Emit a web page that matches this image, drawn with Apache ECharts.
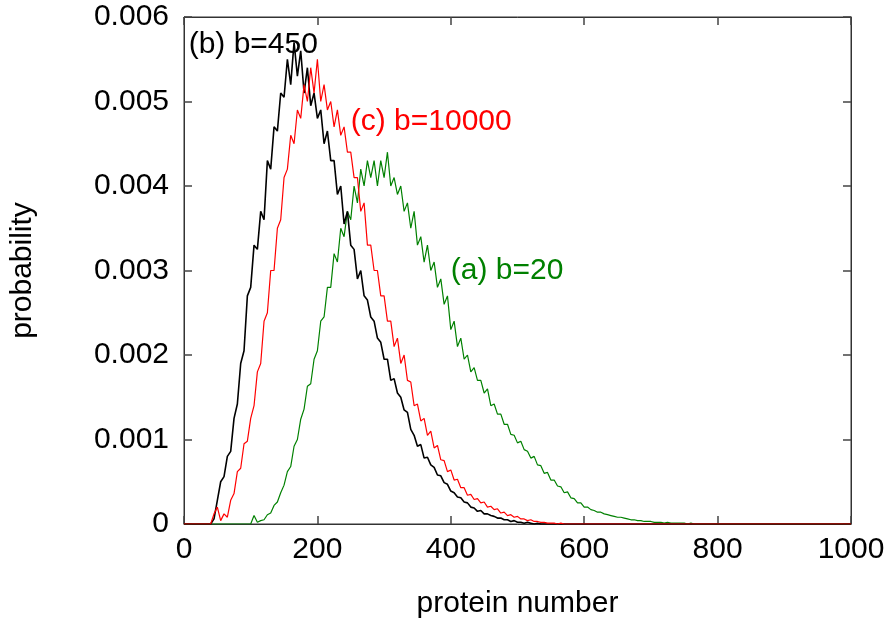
<!DOCTYPE html>
<html>
<head>
<meta charset="utf-8">
<script src="https://cdn.jsdelivr.net/npm/echarts@6/dist/echarts.min.js"></script>
<style>html,body{margin:0;padding:0;background:#fff}#c{width:890px;height:624px}</style>
</head>
<body>
<div id="c"></div>
<script>
// x step between samples (protein number)
var step = 5;
var xTicks = [0, 200, 400, 600, 800, 1000];
var yTicks = [0, 0.001, 0.002, 0.003, 0.004, 0.005, 0.006];

// (b) b=450, samples from protein number 40
var startB = 40;
var probB = [0, 0.00006, 0.00028, 0.0005, 0.00056, 0.0008, 0.00086, 0.00125, 0.00142, 0.0019,
  0.00205, 0.0027, 0.0028, 0.0033, 0.00325, 0.0037, 0.0036, 0.0043, 0.0042, 0.0047,
  0.00465, 0.0051, 0.00505, 0.0055, 0.0052, 0.0057, 0.0053, 0.0056, 0.0051, 0.0054,
  0.00495, 0.0051, 0.0048, 0.0049, 0.0045, 0.00465, 0.0043, 0.0043, 0.0039, 0.0040,
  0.00355, 0.0037, 0.0033, 0.00325, 0.0029, 0.003, 0.0027, 0.00265, 0.00245, 0.0024,
  0.0022, 0.00215, 0.00195, 0.00195, 0.0017, 0.00172, 0.00155, 0.0015, 0.00135, 0.00132,
  0.00112, 0.00105, 0.00092, 0.00094, 0.00078, 0.00079, 0.0007, 0.00067, 0.00058, 0.00057,
  0.00049, 0.00047, 0.00039, 0.00037, 0.00032, 0.00031, 0.00026, 0.00025, 0.0002, 0.00019,
  0.00015, 0.00016, 0.00012, 0.00012, 0.0001, 0.00009, 0.00007, 0.00007, 0.00005, 0.00005,
  0.00003, 0.00004, 0.00002, 0.00002, 0.00001, 0.00002, 0.00001, 0, 0.00001, 0, 0, 0];

// (c) b=10000, samples from protein number 40
var startC = 40;
var probC = [0, 0.00012, 0.0002, 0.00004, 0.00012, 0.00008, 0.00028, 0.00036, 0.00062, 0.00066,
  0.00095, 0.00098, 0.00125, 0.0014, 0.0018, 0.0019, 0.0024, 0.0025, 0.003, 0.0030,
  0.0035, 0.0036, 0.0041, 0.0042, 0.0046, 0.0045, 0.0049, 0.0048, 0.0052, 0.005,
  0.0054, 0.0051, 0.0055, 0.0050, 0.0052, 0.0049, 0.0050, 0.0047, 0.0049, 0.0046,
  0.0047, 0.0044, 0.0044, 0.0041, 0.0041, 0.0037, 0.0038, 0.0033, 0.0033, 0.0030,
  0.0030, 0.0027, 0.0027, 0.0024, 0.0024, 0.0021, 0.0022, 0.0019, 0.002, 0.0017,
  0.00168, 0.0014, 0.00142, 0.00122, 0.00125, 0.00105, 0.0011, 0.0009, 0.00093, 0.00076,
  0.00075, 0.00062, 0.00064, 0.00052, 0.00053, 0.00043, 0.00043, 0.00034, 0.00035, 0.00029,
  0.0003, 0.00025, 0.00026, 0.0002, 0.00021, 0.00017, 0.00018, 0.00013, 0.00014, 0.0001,
  0.00011, 0.00008, 0.00009, 0.00006, 0.00006, 0.00004, 0.00005, 0.00003, 0.00003, 0.00002,
  0.00002, 0.00001, 0.00001, 0.00001, 0, 0.00001, 0, 0, 0];

// (a) b=20, samples from protein number 100
var startA = 100;
var probA = [0, 0.0001, 0.00002, 0.00004, 0.00005, 0.00011, 0.00013, 0.00022, 0.00026, 0.00037,
  0.00046, 0.00062, 0.00068, 0.00092, 0.001, 0.00124, 0.00136, 0.00163, 0.00166, 0.00195,
  0.00205, 0.0024, 0.00245, 0.0028, 0.0028, 0.0032, 0.0031, 0.0035, 0.0034, 0.0037,
  0.0036, 0.004, 0.0038, 0.0042, 0.004, 0.0043, 0.0041, 0.0043, 0.004, 0.0043,
  0.0041, 0.0044, 0.004, 0.0041, 0.0039, 0.004, 0.0037, 0.0038, 0.0035, 0.0037,
  0.0033, 0.0034, 0.0031, 0.0033, 0.003, 0.0031, 0.0028, 0.0029, 0.0026, 0.0027,
  0.0023, 0.0024, 0.0021, 0.0022, 0.00195, 0.002, 0.0018, 0.00185, 0.0017, 0.0017,
  0.00155, 0.0016, 0.0014, 0.00142, 0.0013, 0.0013, 0.00118, 0.00118, 0.00106, 0.00105,
  0.00096, 0.00098, 0.00088, 0.00086, 0.00078, 0.0008, 0.0007, 0.00069, 0.0006, 0.00061,
  0.00052, 0.00052, 0.00045, 0.00044, 0.00037, 0.00038, 0.00031, 0.0003, 0.00025, 0.00025,
  0.0002, 0.0002, 0.00017, 0.00016, 0.00014, 0.00014, 0.00012, 0.00011, 0.0001, 0.00009,
  0.00008, 0.00008, 0.00007, 0.00006, 0.00005, 0.00005, 0.00004, 0.00004, 0.00003, 0.00003,
  0.00003, 0.00002, 0.00002, 0.00002, 0.00001, 0.00002, 0.00001, 0.00001, 0.00001, 0.00001,
  0.00001, 0, 0.00001, 0, 0];

var seriesNames = ['(a) b=20', '(b) b=450', '(c) b=10000'];

function build(start, vals) {
  var d = [[0, 0]];
  for (var i = 0; i < vals.length; i++) d.push([start + i * step, vals[i]]);
  d.push([1000, 0]);
  return d;
}

var FONT = '"Liberation Sans", Arial, Helvetica, sans-serif';
var chart = echarts.init(document.getElementById('c'), null, {renderer: 'canvas'});
var axisLineStyle = {color: '#333', width: 1};
var tickStyle = {color: '#444', width: 1.5};
function labelPoint(x, y, text, color) {
  return {
    symbol: 'circle', symbolSize: 0, silent: true, animation: false,
    data: [{coord: [x, y], value: text}],
    label: {show: true, position: 'right', distance: 0, formatter: text,
      color: color, fontSize: 30, fontFamily: FONT}
  };
}
chart.setOption({
  animation: false,
  backgroundColor: '#fff',
  grid: {left: 183, right: 39, top: 17, bottom: 98, show: true, borderColor: '#333', borderWidth: 1},
  xAxis: [{
    type: 'value', min: 0, max: 1000, interval: 200, position: 'bottom',
    name: 'protein number', nameLocation: 'middle', nameGap: 65,
    nameTextStyle: {color: '#000', fontSize: 30, fontFamily: FONT},
    axisLine: {show: true, onZero: false, lineStyle: axisLineStyle},
    axisTick: {show: true, inside: true, length: 8, lineStyle: tickStyle},
    axisLabel: {color: '#000', fontSize: 30, fontFamily: FONT, margin: 11,
      formatter: function (v) { return String(v); }},
    splitLine: {show: false}
  }, {
    type: 'value', min: 0, max: 1000, interval: 200, position: 'top',
    axisLine: {show: true, onZero: false, lineStyle: axisLineStyle},
    axisTick: {show: true, inside: true, length: 8, lineStyle: tickStyle},
    axisLabel: {show: false}, splitLine: {show: false}
  }],
  yAxis: [{
    type: 'value', min: 0, max: 0.006, interval: 0.001, position: 'left',
    name: 'probability', nameLocation: 'middle', nameGap: 146, nameRotate: 90,
    nameTextStyle: {color: '#000', fontSize: 30, fontFamily: FONT},
    axisLine: {show: true, onZero: false, lineStyle: axisLineStyle},
    axisTick: {show: true, inside: true, length: 8, lineStyle: tickStyle},
    axisLabel: {color: '#000', fontSize: 30, fontFamily: FONT, margin: 15,
      formatter: function (v) { return v === 0 ? '0' : v.toFixed(3); }},
    splitLine: {show: false}
  }, {
    type: 'value', min: 0, max: 0.006, interval: 0.001, position: 'right',
    axisLine: {show: true, onZero: false, lineStyle: axisLineStyle},
    axisTick: {show: true, inside: true, length: 8, lineStyle: tickStyle},
    axisLabel: {show: false}, splitLine: {show: false}
  }],
  series: [{
    name: seriesNames[0], type: 'line', data: build(startA, probA), showSymbol: false, symbol: 'none',
    lineStyle: {color: '#008000', width: 1.2}, itemStyle: {color: '#008000'},
    markPoint: labelPoint(400, 0.0030, seriesNames[0], '#008000')
  }, {
    name: seriesNames[1], type: 'line', data: build(startB, probB), showSymbol: false, symbol: 'none',
    lineStyle: {color: '#000000', width: 1.6}, itemStyle: {color: '#000'},
    markPoint: labelPoint(7, 0.00567, seriesNames[1], '#000000')
  }, {
    name: seriesNames[2], type: 'line', data: build(startC, probC), showSymbol: false, symbol: 'none',
    lineStyle: {color: '#ff0000', width: 1.2}, itemStyle: {color: '#ff0000'},
    markPoint: labelPoint(250, 0.00476, seriesNames[2], '#ff0000')
  }]
});
</script>
</body>
</html>
